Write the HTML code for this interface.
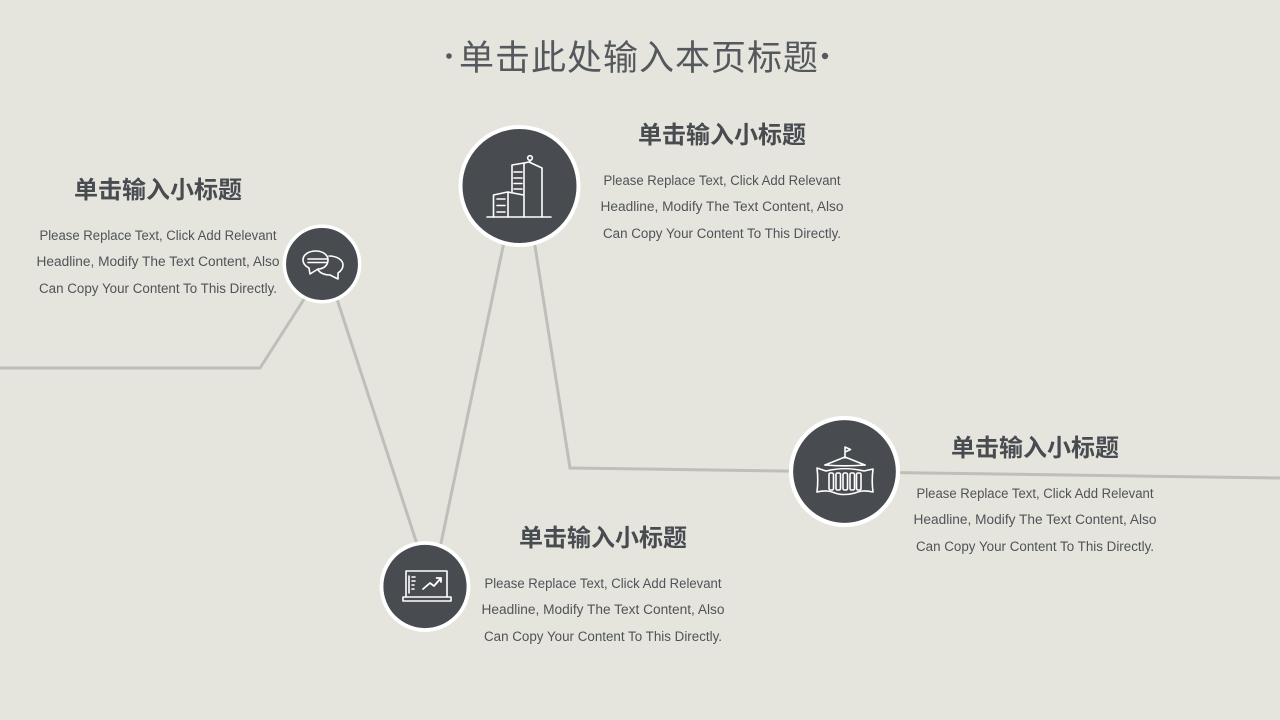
<!DOCTYPE html>
<html lang="zh">
<head>
<meta charset="utf-8">
<title>单击此处输入本页标题</title>
<style>
html,body{margin:0;padding:0;background:#e5e5de;width:1280px;height:720px;overflow:hidden}
svg{display:block}
.t{font-family:"Liberation Sans","Noto Sans CJK SC",sans-serif;fill:#55585c;font-size:35px;letter-spacing:1px}
.h{font-family:"Liberation Sans","Noto Sans CJK SC",sans-serif;fill:#484b4f;font-size:24px;font-weight:700;text-anchor:middle}
.b{font-family:"Liberation Sans",sans-serif;fill:#505357;font-size:13.5px;text-anchor:middle}
.i{fill:none;stroke:#fff;stroke-width:1.6;stroke-linejoin:round;stroke-linecap:round}
</style>
</head>
<body>
<svg width="1280" height="720" viewBox="0 0 1280 720" xmlns="http://www.w3.org/2000/svg">
<rect width="1280" height="720" fill="#e5e5de"/>
<g fill="none" stroke="#bfbfba" stroke-width="3">
<polyline points="0,368 260,368 308,293"/>
<line x1="335" y1="293" x2="417" y2="544"/>
<line x1="440" y1="548" x2="504" y2="242"/>
<polyline points="534,240 570,468 1280,478"/>
</g>

<text class="t" x="459" y="70">单击此处输入本页标题</text>
<circle cx="449" cy="56" r="2.800" fill="#55585c"/>
<circle cx="825" cy="56" r="3.200" fill="#55585c"/>

<!-- node 1 -->
<circle cx="322" cy="264" r="37.700" fill="#484c50" stroke="#fff" stroke-width="3.500"/>
<g class="i">
<path d="M316 251c-8 0-13 4-13 9 0 3 2 6 6 8l1 6 8-5c6 0 10-4 10-9 0-5-5-9-12-9z"/>
<path d="M329 256c8 0 14 4 14 9 0 3-2 6-5 8l0 6-8-4c-5 0-9-1-12-5"/>
<path d="M308 259h19M308 262.500h19"/>
</g>

<!-- node 2 -->
<circle cx="519.500" cy="186" r="59" fill="#484c50" stroke="#fff" stroke-width="4"/>
<g class="i" stroke-width="1.800">
<path d="M487 217h64"/>
<path d="M493.500 217v-22l14-3 16 3"/>
<path d="M508 192v25M524 163v54"/>
<path d="M512 192v-27l12-2 5-1 13 6v49"/>
<path d="M530 162v-2"/>
<circle cx="530" cy="158" r="2.300"/>
<path d="M497 199h8M497 205.500h8M497 212h8M514 172h8M514 178h8M514 183.500h8M514 189h8"/>
</g>

<!-- node 3 -->
<circle cx="425" cy="586.500" r="43.500" fill="#484c50" stroke="#fff" stroke-width="3.800"/>
<g class="i">
<path d="M406 597v-26h41v26"/>
<path d="M403 597h48v4h-48z"/>
<path d="M409 576v17M412 577h3M412 581h3M412 585h2M412 589h2"/>
<path d="M423 589l7-6 4 3 7-8M436.500 578h4.500v4" stroke-width="1.800"/>
</g>

<!-- node 4 -->
<circle cx="844.500" cy="471.500" r="53.500" fill="#484c50" stroke="#fff" stroke-width="4.300"/>
<g class="i">
<path d="M845 458v-11l5.500 2.500-5.500 2.500"/>
<path d="M825 465l20-8 20 8"/>
<path d="M825 465c13 1 27 1 40 0"/>
<path d="M817 468l9 3c12-3 26-3 38 0l9-2c-1 8-1 16 0 23-9-2-13-1-18 1-7 2-15 2-20 0-5-2-10-3-18-1 1-8 1-16 0-24z"/>
<rect x="829" y="473" width="4.500" height="17" rx="1.500"/>
<rect x="836" y="473" width="4.500" height="17" rx="1.500"/>
<rect x="843" y="473" width="4.500" height="17" rx="1.500"/>
<rect x="850" y="473" width="4.500" height="17" rx="1.500"/>
<rect x="856.500" y="473" width="4.500" height="17" rx="1.500"/>
</g>

<!-- left block -->
<text class="h" x="158" y="198">单击输入小标题</text>
<text class="b" x="158" y="240" textLength="237" lengthAdjust="spacingAndGlyphs">Please Replace Text, Click Add Relevant</text>
<text class="b" x="158" y="266" textLength="243" lengthAdjust="spacingAndGlyphs">Headline, Modify The Text Content, Also</text>
<text class="b" x="158" y="293" textLength="238" lengthAdjust="spacingAndGlyphs">Can Copy Your Content To This Directly.</text>

<!-- top block -->
<text class="h" x="722" y="143">单击输入小标题</text>
<text class="b" x="722" y="185" textLength="237" lengthAdjust="spacingAndGlyphs">Please Replace Text, Click Add Relevant</text>
<text class="b" x="722" y="211" textLength="243" lengthAdjust="spacingAndGlyphs">Headline, Modify The Text Content, Also</text>
<text class="b" x="722" y="238" textLength="238" lengthAdjust="spacingAndGlyphs">Can Copy Your Content To This Directly.</text>

<!-- bottom block -->
<text class="h" x="603" y="546">单击输入小标题</text>
<text class="b" x="603" y="588" textLength="237" lengthAdjust="spacingAndGlyphs">Please Replace Text, Click Add Relevant</text>
<text class="b" x="603" y="614" textLength="243" lengthAdjust="spacingAndGlyphs">Headline, Modify The Text Content, Also</text>
<text class="b" x="603" y="641" textLength="238" lengthAdjust="spacingAndGlyphs">Can Copy Your Content To This Directly.</text>

<!-- right block -->
<text class="h" x="1035" y="456">单击输入小标题</text>
<text class="b" x="1035" y="498" textLength="237" lengthAdjust="spacingAndGlyphs">Please Replace Text, Click Add Relevant</text>
<text class="b" x="1035" y="524" textLength="243" lengthAdjust="spacingAndGlyphs">Headline, Modify The Text Content, Also</text>
<text class="b" x="1035" y="551" textLength="238" lengthAdjust="spacingAndGlyphs">Can Copy Your Content To This Directly.</text>
</svg>
</body>
</html>
